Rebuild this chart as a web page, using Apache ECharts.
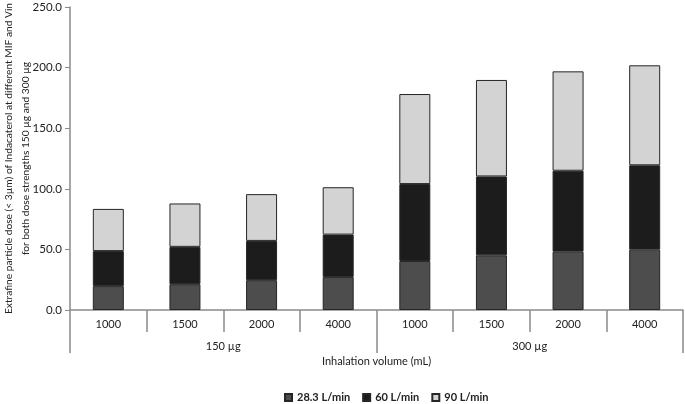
<!DOCTYPE html>
<html>
<head>
<meta charset="utf-8">
<script src="https://cdn.jsdelivr.net/npm/echarts@6/dist/echarts.min.js"></script>
<style>
  html, body { margin: 0; padding: 0; background: #fff; }
  #chart { width: 685px; height: 404px; }
</style>
</head>
<body>
<div id="chart"></div>
<script>
// inhalation volumes (mL) and dose groups
const volumes = ["1000", "1500", "2000", "4000", "1000", "1500", "2000", "4000"]
const doses = ["150 µg", "300 µg"]
const yTicks = [0, 50, 100, 150, 200, 250]

// extrafine dose per flow rate, stacked
const flow28 = [19.7, 21.3, 24.6, 27.3, 40.4, 45.1, 48.1, 49.8]
const flow60 = [28.9, 30.8, 32.4, 34.9, 63.5, 65.1, 66.8, 69.6]
const flow90 = [34.8, 35.8, 38.6, 39.1, 74.3, 79.6, 82.0, 82.5]

const font = "Lato, 'Open Sans', sans-serif"
const axisGray = "#8a8a8a"

const chart = echarts.init(document.getElementById("chart"))

const barSeries = (name, data, color) => ({
  name: name,
  type: "bar",
  stack: "dose",
  barWidth: 31,
  data: data,
  itemStyle: { color: color, borderColor: "#262626", borderWidth: 1 }
})

chart.setOption({
  animation: false,
  textStyle: { fontFamily: font },
  grid: { left: 70, right: 2, top: 7, bottom: 94, outerBoundsMode: "none", containLabel: false },
  legend: {
    bottom: 1,
    left: 284,
    padding: 0,
    icon: "rect",
    itemWidth: 7,
    itemHeight: 7,
    itemGap: 12,
    textStyle: { fontSize: 11, fontWeight: "bold", color: "#222", fontFamily: font },
    data: ["28.3 L/min", "60 L/min", "90 L/min"]
  },
  xAxis: [
    {
      type: "category",
      data: volumes,
      position: "bottom",
      axisLine: { show: true, lineStyle: { color: axisGray, width: 1.5 } },
      axisTick: { show: true, length: 22, interval: 0, lineStyle: { color: axisGray, width: 1.5 } },
      axisLabel: { margin: 9, fontSize: 11, color: "#222", interval: 0 }
    },
    {
      type: "category",
      data: doses,
      position: "bottom",
      axisLine: { show: false },
      axisTick: { show: true, length: 43, interval: 0, lineStyle: { color: axisGray, width: 1.5 } },
      axisLabel: { margin: 31, fontSize: 11, color: "#222" },
      name: "Inhalation volume (mL)",
      nameLocation: "middle",
      nameGap: 46,
      nameMoveOverlap: false,
      nameTextStyle: { fontSize: 11, color: "#222" }
    }
  ],
  yAxis: {
    type: "value",
    min: yTicks[0],
    max: yTicks[yTicks.length - 1],
    interval: 50,
    splitLine: { show: false },
    axisLine: { show: true, lineStyle: { color: axisGray, width: 1.5 } },
    axisTick: { show: true, length: 5, lineStyle: { color: axisGray } },
    axisLabel: {
      fontSize: 11.5,
      color: "#222",
      margin: 8,
      formatter: v => v.toFixed(1)
    },
    name: "Extrafine particle dose (< 3µm) of Indacaterol at different MIF and Vin\nfor both dose strengths 150 µg and 300 µg",
    nameLocation: "middle",
    nameRotate: 90,
    nameGap: 36,
    nameMoveOverlap: false,
    nameTextStyle: { fontSize: 10.2, color: "#222", lineHeight: 17 }
  },
  series: [
    barSeries("28.3 L/min", flow28, "#4d4d4d"),
    barSeries("60 L/min", flow60, "#1c1c1c"),
    barSeries("90 L/min", flow90, "#d3d3d3")
  ]
})
</script>
</body>
</html>
